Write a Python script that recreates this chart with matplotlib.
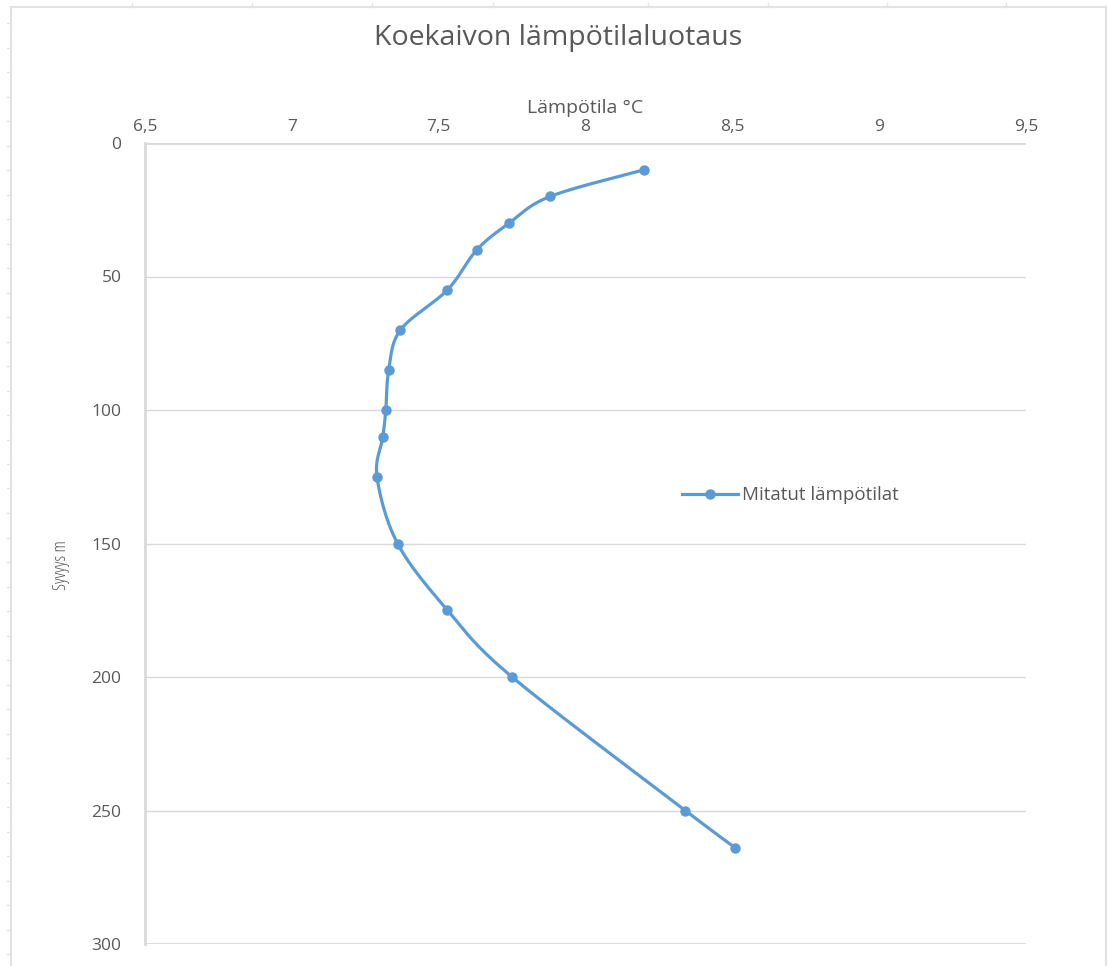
import numpy as np
import matplotlib.pyplot as plt
from matplotlib.lines import Line2D

# measured temperature profile of the test well
depth_m = [10, 20, 30, 40, 55, 70, 85, 100, 110, 125, 150, 175, 200, 250, 264]
temp_c = [8.20, 7.88, 7.74, 7.63, 7.53, 7.37, 7.33, 7.32, 7.31, 7.29, 7.36, 7.53, 7.75, 8.34, 8.51]

x_ticks = [6.5, 7, 7.5, 8, 8.5, 9, 9.5]
x_labels = ['6,5', '7', '7,5', '8', '8,5', '9', '9,5']
y_ticks = [0, 50, 100, 150, 200, 250, 300]

blue = '#5B9BD5'
grey_txt = '#595959'
grid_col = '#D9D9D9'

plt.rcParams['font.family'] = ['Open Sans', 'DejaVu Sans']

fig = plt.figure(figsize=(11.09, 9.66), dpi=100)
ax = fig.add_axes([145 / 1109, 1 - 944 / 966, (1026 - 145) / 1109, (944 - 143) / 966])

ax.set_xlim(6.5, 9.5)
ax.set_ylim(300, 0)
ax.xaxis.tick_top()
ax.xaxis.set_label_position('top')
ax.set_xticks(x_ticks)
ax.set_xticklabels(x_labels)
ax.set_yticks(y_ticks)
ax.tick_params(length=0, labelsize=12.5, colors=grey_txt)
ax.tick_params(axis='x', pad=6)
ax.tick_params(axis='y', pad=17)

for sp in ['right', 'top', 'bottom']:
    ax.spines[sp].set_visible(False)
ax.spines['left'].set_color(grid_col)
ax.spines['left'].set_linewidth(2)

for v in y_ticks:
    ax.axhline(v, color=grid_col, lw=2 if v in (0, 300) else 1, zorder=0)

# smoothed line (Catmull-Rom style Bezier in display space)
pts = ax.transData.transform(np.column_stack([temp_c, depth_m]))
curve = []
n = len(pts)
for i in range(n - 1):
    p0 = pts[max(i - 1, 0)]
    p1 = pts[i]
    p2 = pts[i + 1]
    p3 = pts[min(i + 2, n - 1)]
    c1 = p1 + (p2 - p0) / 6
    c2 = p2 - (p3 - p1) / 6
    t = np.linspace(0, 1, 30)[:, None]
    seg = (1 - t) ** 3 * p1 + 3 * (1 - t) ** 2 * t * c1 + 3 * (1 - t) * t ** 2 * c2 + t ** 3 * p2
    curve.append(seg)
curve = ax.transData.inverted().transform(np.vstack(curve))
ax.plot(curve[:, 0], curve[:, 1], color=blue, lw=2.3, solid_capstyle='round', zorder=3)
ax.plot(temp_c, depth_m, 'o', color=blue, ms=6.5, zorder=4)

handle = Line2D([], [], color=blue, lw=2.3, marker='o', ms=6.5)
ax.legend([handle], ['Mitatut lämpötilat'], loc='center left', bbox_to_anchor=(0.59, 0.56),
          frameon=False, fontsize=13.5, labelcolor=grey_txt, handlelength=3.0, handletextpad=0.2)

ax.set_xlabel('Lämpötila °C', fontsize=14, color=grey_txt, labelpad=4)
ax.set_ylabel('Syvyys m', fontsize=12.8, color=grey_txt, fontstretch='condensed')
ax.yaxis.set_label_coords((70 - 145) / 881, 1 - (565 - 143) / 801)
fig.text(558 / 1109, 1 - 38 / 966, 'Koekaivon lämpötilaluotaus', ha='center', va='center',
         fontsize=20.5, color=grey_txt)

# worksheet frame behind the chart
frame = '#E3E3E3'
fig.add_artist(Line2D([11 / 1109, 11 / 1109], [0, 1 - 7 / 966], transform=fig.transFigure, color=frame, lw=1.5))
fig.add_artist(Line2D([11 / 1109, 1106 / 1109], [1 - 7 / 966, 1 - 7 / 966], transform=fig.transFigure, color=frame, lw=1.5))
fig.add_artist(Line2D([1106 / 1109, 1106 / 1109], [0, 1 - 7 / 966], transform=fig.transFigure, color=frame, lw=1.5))
for yp in np.arange(23, 966, 24.5):
    fig.add_artist(Line2D([7 / 1109, 11 / 1109], [1 - yp / 966] * 2, transform=fig.transFigure, color=frame, lw=1))
for xp in [132, 252, 372, 493, 648, 768, 887, 1006]:
    fig.add_artist(Line2D([xp / 1109] * 2, [1 - 3 / 966, 1 - 7 / 966], transform=fig.transFigure, color=frame, lw=1))

fig.savefig('out.png', dpi=100)
